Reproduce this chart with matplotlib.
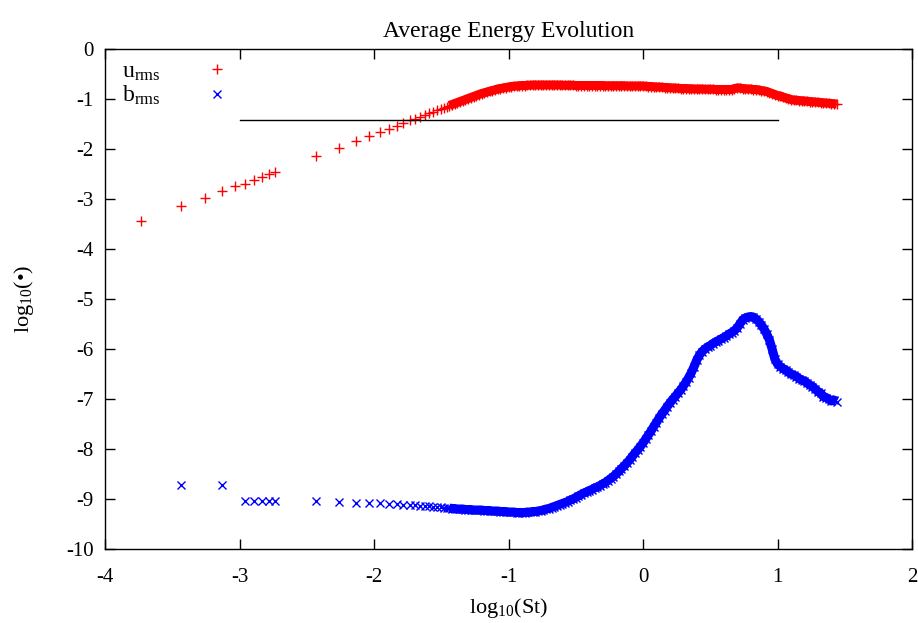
import matplotlib
matplotlib.use("Agg")
import matplotlib.pyplot as plt

plt.rcParams.update({
    "font.family": ["Liberation Serif", "DejaVu Serif"],
    "font.size": 15,
    "mathtext.fontset": "custom",
    "mathtext.rm": "Liberation Serif",
    "mathtext.it": "Liberation Serif:italic",
    "axes.unicode_minus": False,
})

# sparse early samples (log10 St)
u_x_early = [-3.735, -3.434, -3.258, -3.133, -3.036, -2.957, -2.890, -2.832, -2.781, -2.735,
             -2.434, -2.258, -2.133, -2.036, -1.957, -1.890, -1.832, -1.781, -1.735,
             -1.694, -1.656, -1.621, -1.589, -1.559, -1.531, -1.505, -1.480, -1.456]
u_y_early = [-3.44, -3.14, -2.97, -2.83, -2.74, -2.70, -2.62, -2.55, -2.50, -2.45,
             -2.14, -1.97, -1.83, -1.74, -1.66, -1.59, -1.54, -1.47, -1.42,
             -1.39, -1.35, -1.31, -1.28, -1.25, -1.22, -1.20, -1.18, -1.15]

b_x_early = [-3.434, -3.133, -2.957, -2.890, -2.832, -2.781, -2.735,
             -2.434, -2.258, -2.133, -2.036, -1.957, -1.890, -1.832, -1.781, -1.735,
             -1.694, -1.656, -1.621, -1.589, -1.559, -1.531, -1.505, -1.480, -1.456]
b_y_early = [-8.72, -8.72, -9.04, -9.04, -9.04, -9.04, -9.04,
             -9.04, -9.06, -9.07, -9.07, -9.08, -9.09, -9.10, -9.11, -9.12,
             -9.12, -9.13, -9.13, -9.14, -9.15, -9.15, -9.16, -9.17, -9.17]

# dense later samples
x_late = [-1.44, -1.42, -1.40, -1.38, -1.36, -1.34, -1.32, -1.30, -1.28, -1.26,
          -1.24, -1.22, -1.20, -1.18, -1.16, -1.14, -1.12, -1.10, -1.08, -1.06,
          -1.04, -1.02, -1.00, -0.98, -0.96, -0.94, -0.92, -0.90, -0.88, -0.86,
          -0.84, -0.82, -0.80, -0.78, -0.76, -0.74, -0.72, -0.70, -0.68, -0.66,
          -0.64, -0.62, -0.60, -0.58, -0.56, -0.54, -0.52, -0.50, -0.48, -0.46,
          -0.44, -0.42, -0.40, -0.38, -0.36, -0.34, -0.32, -0.30, -0.28, -0.26,
          -0.24, -0.22, -0.20, -0.18, -0.16, -0.14, -0.12, -0.10, -0.08, -0.06,
          -0.04, -0.02, 0.00, 0.02, 0.04, 0.06, 0.08, 0.10, 0.12, 0.14,
          0.16, 0.18, 0.20, 0.22, 0.24, 0.26, 0.28, 0.30, 0.32, 0.34,
          0.36, 0.38, 0.40, 0.42, 0.44, 0.46, 0.48, 0.50, 0.52, 0.54,
          0.56, 0.58, 0.60, 0.62, 0.64, 0.66, 0.68, 0.70, 0.72, 0.74,
          0.76, 0.78, 0.80, 0.82, 0.84, 0.86, 0.88, 0.90, 0.92, 0.94,
          0.96, 0.98, 1.00, 1.02, 1.04, 1.06, 1.08, 1.10, 1.12, 1.14,
          1.16, 1.18, 1.20, 1.22, 1.24, 1.26, 1.28, 1.30, 1.32, 1.34,
          1.36, 1.38, 1.40, 1.42, 1.44]

u_y_late = [-1.13, -1.11, -1.09, -1.07, -1.05, -1.03, -1.01, -0.99, -0.97, -0.95,
            -0.93, -0.91, -0.89, -0.875, -0.86, -0.845, -0.83, -0.815, -0.80, -0.79,
            -0.78, -0.77, -0.76, -0.75, -0.745, -0.74, -0.735, -0.73, -0.73, -0.725,
            -0.725, -0.72, -0.72, -0.72, -0.72, -0.72, -0.72, -0.72, -0.72, -0.72,
            -0.72, -0.72, -0.725, -0.725, -0.725, -0.725, -0.725, -0.73, -0.73, -0.73,
            -0.73, -0.73, -0.73, -0.73, -0.73, -0.73, -0.73, -0.73, -0.735, -0.735,
            -0.735, -0.735, -0.735, -0.735, -0.735, -0.735, -0.74, -0.74, -0.74, -0.74,
            -0.74, -0.74, -0.74, -0.745, -0.75, -0.75, -0.755, -0.76, -0.76, -0.765,
            -0.77, -0.77, -0.775, -0.78, -0.78, -0.785, -0.79, -0.79, -0.79, -0.795,
            -0.795, -0.80, -0.80, -0.80, -0.80, -0.805, -0.805, -0.805, -0.805, -0.81,
            -0.81, -0.81, -0.81, -0.81, -0.81, -0.81, -0.79, -0.78, -0.78, -0.79,
            -0.795, -0.80, -0.80, -0.81, -0.81, -0.82, -0.83, -0.84, -0.85, -0.87,
            -0.89, -0.91, -0.93, -0.94, -0.96, -0.98, -0.99, -1.01, -1.02, -1.025,
            -1.03, -1.035, -1.04, -1.045, -1.05, -1.055, -1.06, -1.065, -1.07, -1.075,
            -1.08, -1.085, -1.09, -1.095, -1.10]

b_y_late = [-9.18, -9.19, -9.19, -9.20, -9.20, -9.20, -9.21, -9.21, -9.21, -9.22,
            -9.22, -9.22, -9.22, -9.23, -9.23, -9.23, -9.24, -9.24, -9.24, -9.25,
            -9.25, -9.25, -9.26, -9.26, -9.26, -9.27, -9.27, -9.27, -9.27, -9.26,
            -9.26, -9.25, -9.25, -9.24, -9.23, -9.22, -9.20, -9.19, -9.17, -9.15,
            -9.13, -9.11, -9.09, -9.07, -9.05, -9.02, -9.00, -8.97, -8.94, -8.91,
            -8.88, -8.86, -8.83, -8.81, -8.78, -8.76, -8.73, -8.70, -8.67, -8.63,
            -8.59, -8.55, -8.50, -8.45, -8.39, -8.34, -8.28, -8.22, -8.15, -8.08,
            -8.02, -7.95, -7.88, -7.80, -7.72, -7.64, -7.55, -7.47, -7.38, -7.30,
            -7.23, -7.15, -7.08, -7.01, -6.95, -6.88, -6.82, -6.74, -6.66, -6.57,
            -6.47, -6.35, -6.22, -6.12, -6.05, -6.00, -5.96, -5.93, -5.89, -5.86,
            -5.83, -5.80, -5.77, -5.74, -5.70, -5.67, -5.63, -5.58, -5.50, -5.42,
            -5.38, -5.36, -5.35, -5.36, -5.40, -5.45, -5.52, -5.60, -5.70, -5.82,
            -6.00, -6.20, -6.30, -6.35, -6.39, -6.42, -6.46, -6.50, -6.52, -6.55,
            -6.59, -6.62, -6.64, -6.68, -6.72, -6.75, -6.80, -6.85, -6.88, -6.95,
            -6.97, -7.00, -7.04, -7.02, -7.05]

ref_x = [-3.0, 1.0]
ref_y = [-1.42, -1.42]

u_x = u_x_early + x_late
u_y = u_y_early + u_y_late
b_x = b_x_early + x_late
b_y = b_y_early + b_y_late

RED = "#ff0000"
BLUE = "#0000ff"

fig = plt.figure(figsize=(9.18, 6.23), dpi=100)
ax = fig.add_axes([105 / 918, 74 / 623, 807 / 918, 500 / 623])

# the real output has thousands of samples here, so the marks merge into a band
ax.plot(x_late, u_y_late, color=RED, linewidth=6.5, solid_capstyle="butt")
ax.plot(x_late, b_y_late, color=BLUE, linewidth=6.5, solid_capstyle="butt")

ax.plot(u_x, u_y, linestyle="none", marker="+", color=RED,
        markersize=7, markeredgewidth=1.0, label=r"u$_{\rm rms}$")
ax.plot(b_x, b_y, linestyle="none", marker="x", color=BLUE,
        markersize=5.5, markeredgewidth=1.0, label=r"b$_{\rm rms}$")
ax.plot(ref_x, ref_y, color="black", linewidth=1.0)

ax.set_xlim(-4, 2)
ax.set_ylim(-10, 0)
ax.set_xticks([-4, -3, -2, -1, 0, 1, 2])
ax.set_yticks(range(-10, 1))
ax.tick_params(direction="in", length=7, width=1, top=True, right=True,
               labelsize=15)
ax.tick_params(axis="x", pad=14)
ax.tick_params(axis="y", pad=8)
for s in ax.spines.values():
    s.set_linewidth(1.0)

ax.set_xlabel(r"log$_{10}$(St)", fontsize=16, labelpad=6)
ax.set_ylabel(r"log$_{10}$(•)", fontsize=16, labelpad=22)
ax.set_title("Average Energy Evolution", fontsize=17, pad=9)

ax.legend(loc="upper left", bbox_to_anchor=(0.006, 1.0), markerfirst=False,
          frameon=False, handlelength=1.0, handletextpad=1.9,
          labelspacing=0.05, borderaxespad=0.1, fontsize=17)

fig.savefig("out.png", dpi=100)
